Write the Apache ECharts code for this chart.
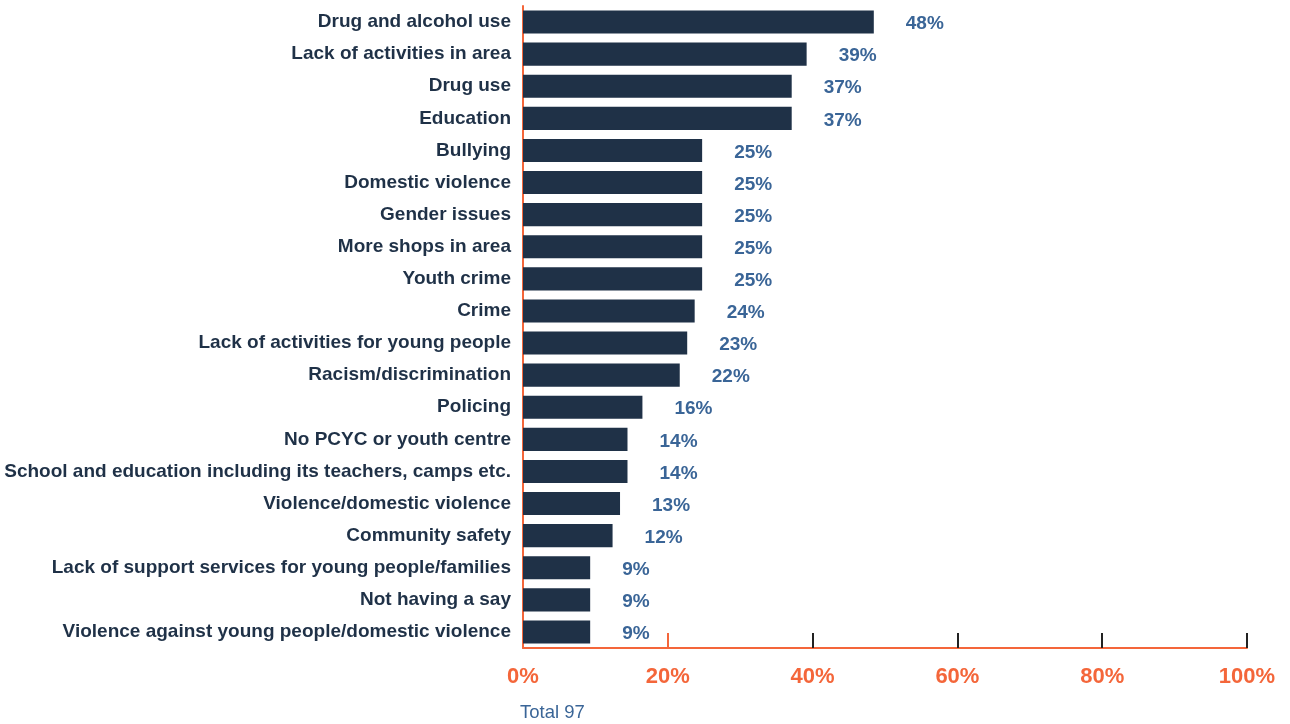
<!DOCTYPE html>
<html>
<head>
<meta charset="utf-8">
<script src="https://cdn.jsdelivr.net/npm/echarts@6/dist/echarts.min.js"></script>
<style>
  html, body { margin: 0; padding: 0; background: #fff; }
  #chart { width: 1290px; height: 724px; }
</style>
</head>
<body>
<div id="chart"></div>
<script>
const categories = [
  "Drug and alcohol use",
  "Lack of activities in area",
  "Drug use",
  "Education",
  "Bullying",
  "Domestic violence",
  "Gender issues",
  "More shops in area",
  "Youth crime",
  "Crime",
  "Lack of activities for young people",
  "Racism/discrimination",
  "Policing",
  "No PCYC or youth centre",
  "School and education including its teachers, camps etc.",
  "Violence/domestic violence",
  "Community safety",
  "Lack of support services for young people/families",
  "Not having a say",
  "Violence against young people/domestic violence",
];
// respondent counts out of the total
const counts = [47, 38, 36, 36, 24, 24, 24, 24, 24, 23, 22, 21, 16, 14, 14, 13, 12, 9, 9, 9];
const TOTAL = 97;
const xTicks = [0, 20, 40, 60, 80, 100];

const ORANGE = "#F4663A";
const NAVY = "#1F3147";
const BLUE = "#3A6597";
const FONT = "'Liberation Sans', Arial, sans-serif";

let percents = counts.map((c) => (c / TOTAL) * 100);

let myChart = echarts.init(document.getElementById("chart"));

let option = {
  animation: false,
  textStyle: { fontFamily: FONT },
  grid: { left: 523, right: 43, top: 6, bottom: 76 },
  graphic: [
    {
      type: "text",
      left: 520,
      top: 703,
      style: { text: `Total ${TOTAL}`, fill: BLUE, font: `18.5px ${FONT}` },
    },
  ],
  xAxis: [
    {
      type: "value",
      min: 0,
      max: 100,
      interval: 20,
      axisLine: { show: true, lineStyle: { color: ORANGE, width: 2 } },
      axisTick: {
        show: true,
        inside: true,
        length: 15,
        customValues: [40, 60, 80, 100],
        lineStyle: { color: "#222", width: 2 },
      },
      axisLabel: {
        margin: 18,
        color: ORANGE,
        fontWeight: "bold",
        fontSize: 22,
        fontFamily: FONT,
        customValues: xTicks,
        formatter: (v) => `${v}%`,
      },
      splitLine: { show: false },
    },
    {
      type: "value",
      position: "bottom",
      min: 0,
      max: 100,
      interval: 20,
      axisLine: { show: false },
      axisTick: {
        show: true,
        inside: true,
        length: 15,
        customValues: [20],
        lineStyle: { color: ORANGE, width: 2 },
      },
      axisLabel: { show: false },
      splitLine: { show: false },
    },
  ],
  yAxis: {
    type: "category",
    inverse: true,
    data: categories,
    axisLine: { show: true, lineStyle: { color: ORANGE, width: 2 } },
    axisTick: { show: false },
    axisLabel: {
      margin: 12,
      color: NAVY,
      fontWeight: "bold",
      fontSize: 19,
      fontFamily: FONT,
    },
  },
  series: [
    {
      name: "share",
      type: "bar",
      barWidth: "72%",
      data: percents,
      itemStyle: { color: NAVY },
      label: {
        show: true,
        position: "right",
        distance: 32,
        offset: [0, 2],
        color: BLUE,
        fontWeight: "bold",
        fontSize: 19,
        fontFamily: FONT,
        formatter: (p) => `${Math.round(p.value)}%`,
      },
    },
  ],
};

option && myChart.setOption(option);
</script>
</body>
</html>
